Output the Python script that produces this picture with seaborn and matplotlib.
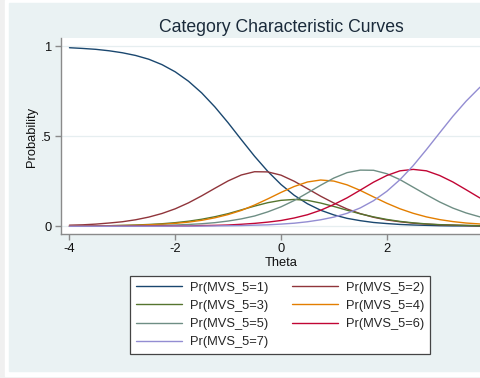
import numpy as np
import pandas as pd
import seaborn as sns
import matplotlib.pyplot as plt
from matplotlib.patches import Rectangle

# values, theta every 0.25
theta = [-4.0, -3.75, -3.5, -3.25, -3.0, -2.75, -2.5, -2.25, -2.0, -1.75, -1.5,
         -1.25, -1.0, -0.75, -0.5, -0.25, 0.0, 0.25, 0.5, 0.75, 1.0, 1.25, 1.5,
         1.75, 2.0, 2.25, 2.5, 2.75, 3.0, 3.25, 3.5, 3.75, 4.0]

p1 = [0.992, 0.988, 0.983, 0.975, 0.964, 0.949, 0.928, 0.898, 0.858, 0.806, 0.741,
      0.663, 0.575, 0.481, 0.389, 0.305, 0.232, 0.172, 0.125, 0.089, 0.063, 0.044,
      0.031, 0.021, 0.015, 0.010, 0.007, 0.005, 0.003, 0.002, 0.002, 0.001, 0.001]
p2 = [0.006, 0.008, 0.012, 0.018, 0.025, 0.036, 0.051, 0.071, 0.097, 0.130, 0.169,
      0.211, 0.252, 0.285, 0.303, 0.302, 0.284, 0.250, 0.209, 0.167, 0.129, 0.096,
      0.070, 0.050, 0.035, 0.025, 0.017, 0.012, 0.008, 0.006, 0.004, 0.003, 0.002]
p3 = [0.001, 0.002, 0.002, 0.003, 0.005, 0.007, 0.010, 0.014, 0.020, 0.028, 0.039,
      0.053, 0.070, 0.091, 0.112, 0.131, 0.144, 0.149, 0.144, 0.129, 0.110, 0.089,
      0.069, 0.052, 0.038, 0.027, 0.019, 0.013, 0.009, 0.007, 0.005, 0.003, 0.002]
p4 = [0.001, 0.001, 0.002, 0.003, 0.004, 0.005, 0.008, 0.011, 0.016, 0.023, 0.033,
      0.047, 0.065, 0.088, 0.118, 0.152, 0.188, 0.221, 0.246, 0.257, 0.251, 0.230,
      0.199, 0.163, 0.128, 0.097, 0.072, 0.052, 0.037, 0.026, 0.018, 0.013, 0.009]
p5 = [0.000, 0.000, 0.001, 0.001, 0.002, 0.002, 0.003, 0.005, 0.007, 0.010, 0.014,
      0.020, 0.029, 0.041, 0.057, 0.080, 0.108, 0.143, 0.185, 0.228, 0.268, 0.298,
      0.312, 0.311, 0.292, 0.259, 0.217, 0.175, 0.135, 0.101, 0.074, 0.053, 0.037]
p6 = [0.000, 0.000, 0.000, 0.000, 0.000, 0.001, 0.001, 0.001, 0.002, 0.002, 0.004,
      0.005, 0.007, 0.011, 0.016, 0.023, 0.032, 0.046, 0.064, 0.089, 0.121, 0.158,
      0.201, 0.245, 0.282, 0.308, 0.316, 0.308, 0.282, 0.246, 0.203, 0.159, 0.120]
p7 = [0.000, 0.000, 0.000, 0.000, 0.000, 0.000, 0.000, 0.000, 0.001, 0.001, 0.001,
      0.002, 0.003, 0.004, 0.006, 0.008, 0.012, 0.017, 0.025, 0.036, 0.051, 0.072,
      0.102, 0.142, 0.194, 0.259, 0.337, 0.426, 0.519, 0.611, 0.695, 0.769, 0.829]

labels = ['Pr(MVS_5=1)', 'Pr(MVS_5=2)', 'Pr(MVS_5=3)', 'Pr(MVS_5=4)',
          'Pr(MVS_5=5)', 'Pr(MVS_5=6)', 'Pr(MVS_5=7)']
colors = ['#1a476f', '#90353b', '#55752f', '#e37e00', '#6e8e84', '#c10534', '#938dd2']

wide = pd.DataFrame(dict(zip(labels, [p1, p2, p3, p4, p5, p6, p7])))
wide['Theta'] = theta
df = wide.melt(id_vars='Theta', var_name='series', value_name='Probability')

sns.set_style('white')
plt.rcParams['font.family'] = ['Liberation Sans', 'DejaVu Sans']

W, H = 481, 378
fig = plt.figure(figsize=(W / 100, H / 100), dpi=100, facecolor='#f0f0f0')
# white frame + bluish graph region (Stata s2color look)
fig.patches.append(Rectangle((5 / W, 1 - 376 / H), 476 / W, 376 / H,
                             transform=fig.transFigure, color='white', zorder=-3))
fig.patches.append(Rectangle((9 / W, 1 - 371 / H), 472 / W, 368 / H,
                             transform=fig.transFigure, color='#eaf2f3', zorder=-2))

ax = fig.add_axes([61 / W, 1 - 234 / H, 440 / W, 196 / H])
ax.set_facecolor('white')

sns.lineplot(data=df, x='Theta', y='Probability', hue='series', hue_order=labels,
             palette=dict(zip(labels, colors)), linewidth=1.0, errorbar=None,
             legend=False, ax=ax)

ax.set_xlim(-4.16, 4.16)
ax.set_ylim(-0.043, 1.046)
ax.set_xticks([-4, -2, 0, 2])
ax.set_xticklabels(['-4', '-2', '0', '2'])
ax.set_yticks([0, 0.5, 1])
ax.set_yticklabels(['0', '.5', '1'])
ax.grid(axis='y', color='#e6eef0', linewidth=0.9)
ax.grid(axis='x', visible=False)

for s in ['top', 'right']:
    ax.spines[s].set_visible(False)
for s in ['left', 'bottom']:
    ax.spines[s].set_color('#8a8a8a')
    ax.spines[s].set_linewidth(1.0)
ax.tick_params(axis='both', direction='out', length=4, width=1.0, color='#8a8a8a',
               labelsize=9.3, labelcolor='#111111', pad=2.5, left=True, bottom=True)

ax.set_xlabel('Theta', fontsize=9.3, color='#111111')
ax.set_ylabel('Probability', fontsize=9.3, color='#111111')
ax.xaxis.label.set_va('center')
ax.yaxis.label.set_va('center')
ax.xaxis.set_label_coords(0.5, (234 - 263) / 196)
ax.yaxis.set_label_coords((32 - 61) / 440, (234 - 137) / 196)

fig.text(281 / W, 1 - 27.5 / H, 'Category Characteristic Curves', ha='center',
         va='center', fontsize=12.7, color='#1a2a3a')

# Stata fills the legend row by row
handles = ax.lines[:7]
order = [0, 2, 4, 6, 1, 3, 5]
leg = fig.legend([handles[i] for i in order], [labels[i] for i in order],
                 loc='upper left', bbox_to_anchor=(130 / W, 1 - 276 / H), ncol=2,
                 fontsize=9.3, frameon=True, fancybox=False, handlelength=3.6,
                 handletextpad=0.6, columnspacing=1.8, labelspacing=0.47,
                 borderpad=0.45, borderaxespad=0)
leg.get_frame().set_edgecolor('#444444')
leg.get_frame().set_linewidth(0.9)
leg.get_frame().set_facecolor('white')
leg.get_frame().set_alpha(1)

fig.savefig('out.png', dpi=100, facecolor=fig.get_facecolor())
